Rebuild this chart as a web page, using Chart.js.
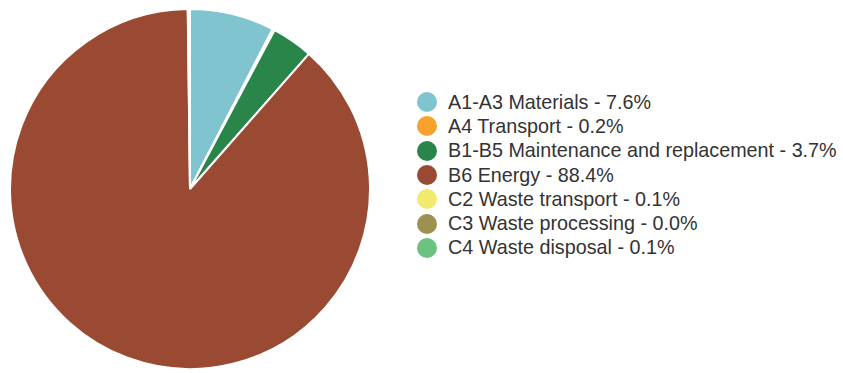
<!DOCTYPE html>
<html lang="en">
<head>
  <meta charset="UTF-8" />
  <title>Life cycle stages</title>
  <script src="https://cdn.jsdelivr.net/npm/chart.js"></script>
  <style>
    html, body { margin: 0; padding: 0; background: #fff; }
    body { width: 843px; height: 373px; position: relative; overflow: hidden;
           font-family: "Liberation Sans", Arial, sans-serif; }
    #pieBox { position: absolute; left: 9px; top: 8px; width: 362px; height: 362px; }
    #legend { position: absolute; left: 417px; top: 90px; color: #333; font-size: 19.75px; }
    .row { height: 24.3px; display: flex; align-items: center; white-space: nowrap; }
    .dot { width: 20px; height: 20px; border-radius: 50%; margin-right: 11px; flex: none; }
  </style>
</head>
<body>
  <div id="pieBox"><canvas id="pieChart"></canvas></div>
  <div id="legend"></div>

  <script>
    const stages = [
      'A1-A3 Materials',
      'A4 Transport',
      'B1-B5 Maintenance and replacement',
      'B6 Energy',
      'C2 Waste transport',
      'C3 Waste processing',
      'C4 Waste disposal'
    ];
    const shares = [7.6, 0.2, 3.7, 88.4, 0.1, 0.0, 0.1];
    const stageColors = ['#7fc4cf', '#f7a22e', '#2a854a', '#9a4a33', '#f1ea6e', '#9d9150', '#6cc27f'];

    const chart = new Chart(document.getElementById('pieChart'), {
      type: 'pie',
      data: {
        labels: stages,
        datasets: [{
          data: shares,
          backgroundColor: stageColors,
          borderColor: '#ffffff',
          borderWidth: 2
        }]
      },
      options: {
        responsive: true,
        maintainAspectRatio: false,
        animation: false,
        layout: { padding: 0 },
        plugins: {
          legend: { display: false },
          tooltip: { enabled: false }
        }
      }
    });

    // legend list built from the chart's own labels and colours
    const legendEl = document.getElementById('legend');
    chart.data.labels.forEach((name, i) => {
      const row = document.createElement('div');
      row.className = 'row';
      const dot = document.createElement('span');
      dot.className = 'dot';
      dot.style.background = chart.data.datasets[0].backgroundColor[i];
      const txt = document.createElement('span');
      txt.textContent = `${name} - ${chart.data.datasets[0].data[i].toFixed(1)}%`;
      row.appendChild(dot);
      row.appendChild(txt);
      legendEl.appendChild(row);
    });
  </script>
</body>
</html>
